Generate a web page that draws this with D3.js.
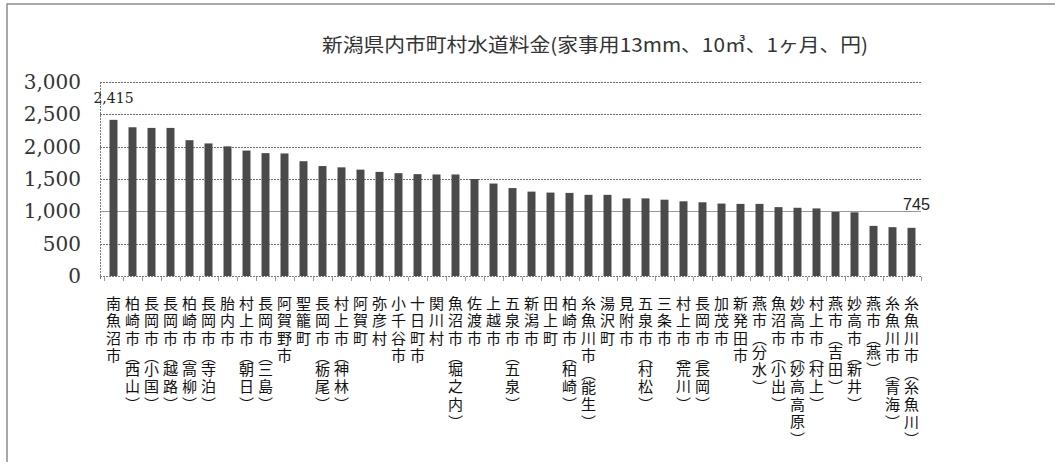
<!DOCTYPE html>
<html>
<head>
<meta charset="utf-8">
<script src="https://cdn.jsdelivr.net/npm/d3@7"></script>
<style>
  body { margin: 0; background: #fff; }
  svg { display: block; }
  .vlabel { writing-mode: vertical-rl; letter-spacing: 2.5px; }
  .paren { letter-spacing: -1.5px; }
</style>
</head>
<body>
<svg id="chart" width="1055" height="462"></svg>
<script>
// 市町村名(家事用13mm、10㎥、1ヶ月)
const cities = [
  "南魚沼市", "柏崎市(西山)", "長岡市(小国)", "長岡市(越路)", "柏崎市(高柳)",
  "長岡市(寺泊)", "胎内市", "村上市(朝日)", "長岡市(三島)", "阿賀野市",
  "聖籠町", "長岡市(栃尾)", "村上市(神林)", "阿賀町", "弥彦村",
  "小千谷市", "十日町市", "関川村", "魚沼市(堀之内)", "佐渡市",
  "上越市", "五泉市(五泉)", "新潟市", "田上町", "柏崎市(柏崎)",
  "糸魚川市(能生)", "湯沢町", "見附市", "五泉市(村松)", "三条市",
  "村上市(荒川)", "長岡市(長岡)", "加茂市", "新発田市", "燕市(分水)",
  "魚沼市(小出)", "妙高市(妙高高原)", "村上市(村上)", "燕市(吉田)", "妙高市(新井)",
  "燕市(燕)", "糸魚川市(青海)", "糸魚川市(糸魚川)"
]
const fees = [
  2415, 2300, 2290, 2290, 2100,
  2050, 2005, 1940, 1900, 1895,
  1775, 1700, 1680, 1645, 1610,
  1590, 1575, 1570, 1570, 1500,
  1430, 1360, 1305, 1290, 1285,
  1255, 1255, 1200, 1200, 1180,
  1155, 1140, 1120, 1115, 1115,
  1065, 1055, 1045, 990, 985,
  775, 755, 745
]
const yTicks = [0, 500, 1000, 1500, 2000, 2500, 3000]
const title = "新潟県内市町村水道料金(家事用13mm、10㎥、1ヶ月、円)"

const svg = d3.select("#chart")

// 枠
svg.append("path")
  .attr("d", "M7,462 V4 H1055")
  .attr("fill", "none")
  .attr("stroke", "#8c8c8c")
  .attr("stroke-width", 1.5)

svg.append("text")
  .attr("x", 595)
  .attr("y", 52)
  .attr("text-anchor", "middle")
  .attr("font-family", "'Noto Sans CJK JP'")
  .attr("font-size", 19)
  .attr("fill", "#333")
  .attr("textLength", 546)
  .attr("lengthAdjust", "spacingAndGlyphs")
  .text(title)

const x = d3.scaleBand()
  .domain(cities)
  .range([104, 921])
  .paddingInner(0.58)
  .paddingOuter(0.29)

const y = d3.scaleLinear()
  .domain([0, 3000])
  .range([276, 82])

// 目盛線
svg.append("g")
  .selectAll("line")
  .data(yTicks.filter(d => d > 0))
  .enter()
  .append("line")
  .attr("x1", 100)
  .attr("x2", 921)
  .attr("y1", d => Math.round(y(d)) + 0.5)
  .attr("y2", d => Math.round(y(d)) + 0.5)
  .attr("stroke", d => d === 1000 ? "#999" : "#6c6c6c")
  .attr("stroke-dasharray", d => d === 1000 ? null : "2,1")

// y軸
const yAxis = d3.axisLeft(y)
  .tickValues(yTicks)
  .tickFormat(d3.format(","))
  .tickSize(0)
  .tickPadding(0)
const ga = svg.append("g")
  .attr("transform", "translate(81,0)")
  .call(yAxis)
ga.select(".domain").remove()
ga.selectAll("text")
  .attr("font-family", "'DejaVu Serif'")
  .attr("font-size", 20)
  .attr("fill", "#333")

svg.append("line")
  .attr("x1", 100.5).attr("x2", 100.5)
  .attr("y1", 82).attr("y2", 279)
  .attr("stroke", "#777")
  .attr("stroke-dasharray", "2,1")

// 棒
svg.append("g")
  .selectAll("rect")
  .data(cities)
  .enter()
  .append("rect")
  .attr("x", d => x(d))
  .attr("width", x.bandwidth())
  .attr("y", (d, i) => y(fees[i]))
  .attr("height", (d, i) => y(0) - y(fees[i]))
  .attr("fill", "#4a4a4a")

// 下の軸線と目盛
svg.append("line")
  .attr("x1", 100).attr("x2", 921)
  .attr("y1", 276.5).attr("y2", 276.5)
  .attr("stroke", "#777")
  .attr("stroke-dasharray", "2,1")

const step = x.step()
svg.append("g")
  .selectAll("line")
  .data(d3.range(cities.length + 1))
  .enter()
  .append("line")
  .attr("x1", i => Math.round(104 + i * step) + 0.5)
  .attr("x2", i => Math.round(104 + i * step) + 0.5)
  .attr("y1", 277)
  .attr("y2", 281)
  .attr("stroke", "#999")

// 最大・最小のラベル
svg.append("text")
  .attr("x", x(cities[0]) + x.bandwidth() / 2)
  .attr("y", 103)
  .attr("text-anchor", "middle")
  .attr("font-family", "'DejaVu Serif'")
  .attr("font-size", 14)
  .attr("fill", "#222")
  .text(d3.format(",")(fees[0]))

const last = cities.length - 1
svg.append("text")
  .attr("x", x(cities[last]) + x.bandwidth() / 2 + 5)
  .attr("y", 210)
  .attr("text-anchor", "middle")
  .attr("font-family", "'Liberation Sans'")
  .attr("font-size", 17)
  .attr("fill", "#222")
  .attr("textLength", 27)
  .attr("lengthAdjust", "spacingAndGlyphs")
  .text(fees[last])

// 縦書きの項目名
const labels = svg.append("g")
  .attr("font-family", "'Noto Sans CJK JP'")
  .attr("font-size", 15)
  .attr("fill", "#111")
  .selectAll("text")
  .data(cities)
  .enter()
  .append("text")
  .attr("class", "vlabel")
  .attr("x", d => x(d) + x.bandwidth() / 2)
  .attr("y", 295.5)

labels.each(function (d) {
  const t = d3.select(this)
  // 全角括弧にして縦書き用の字形を使う
  d.replace(/\(/g, "（").replace(/\)/g, "）").split(/([（）])/).forEach(part => {
    if (!part) return
    const s = t.append("tspan").text(part)
    if (part === "（" || part === "）") s.attr("class", "paren")
  })
})
</script>
</body>
</html>
